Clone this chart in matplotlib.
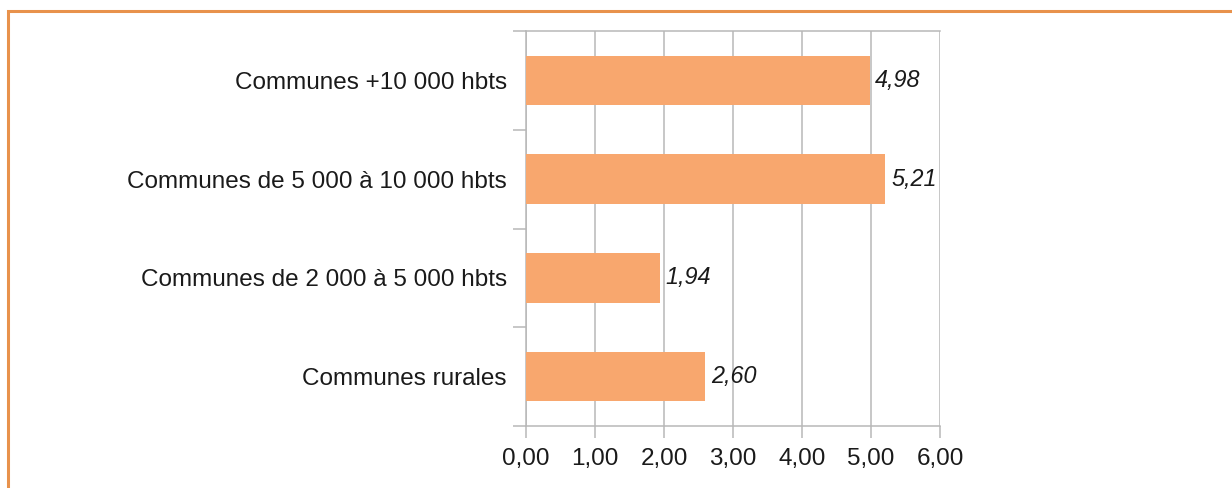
import matplotlib
matplotlib.use("Agg")
from matplotlib import pyplot as plt
from matplotlib.patches import Rectangle

# donnees du graphique
categories = ["Communes +10 000 hbts",
              "Communes de 5 000 à 10 000 hbts",
              "Communes de 2 000 à 5 000 hbts",
              "Communes rurales"]
valeurs = [4.98, 5.21, 1.94, 2.60]
xticks = [0, 1, 2, 3, 4, 5, 6]

plt.rcParams['font.family'] = ['Liberation Sans', 'DejaVu Sans']

W, H = 1232, 488
fig = plt.figure(figsize=(W / 100, H / 100), dpi=100)
fig.patch.set_facecolor('white')

# cadre orange de la figure (coupe a droite et en bas)
fig.patches.append(Rectangle((8 / W, -0.1), 1.2, 1 - 11 / H + 0.1,
                             transform=fig.transFigure, fill=False,
                             edgecolor='#E8924C', linewidth=2.2))

ax = fig.add_axes([526 / W, 1 - 426 / H, (940 - 526) / W, (426 - 31) / H])

gris = '#B8B8B8'
pos = list(range(len(categories)))
ax.barh(pos, valeurs, height=0.5, color='#F8A76E', zorder=3)

for y, v in zip(pos, valeurs):
    ax.text(v + 0.08, y, f"{v:.2f}".replace('.', ','), va='center',
            ha='left', fontsize=16.8, style='italic', color='#1a1a1a', zorder=4)

ax.set_xlim(0, 6)
ax.set_ylim(len(categories) - 0.5, -0.5)
ax.set_xticks(xticks)
ax.set_xticklabels([f"{t:.2f}".replace('.', ',') for t in xticks])

# ticks de categories aux frontieres
ax.set_yticks([p - 0.5 for p in pos] + [len(categories) - 0.5])
ax.set_yticklabels([])
ax.set_yticks(pos, minor=True)
ax.set_yticklabels(categories, minor=True)
ax.tick_params(axis='y', which='minor', length=0, pad=13.7, labelsize=17.5,
               labelcolor='#1a1a1a')
ax.tick_params(axis='y', which='major', length=9.4, width=1.1, color=gris)
ax.tick_params(axis='x', length=8.6, width=1.1, color=gris, pad=7.5,
               labelsize=17.5, labelcolor='#1a1a1a')

ax.xaxis.grid(True, color=gris, linewidth=1.1, zorder=0)
ax.set_axisbelow(True)
for s in ['left', 'bottom', 'top', 'right']:
    ax.spines[s].set_color(gris)
    ax.spines[s].set_linewidth(1.1)
ax.spines['right'].set_visible(False)

fig.savefig('out.png', dpi=100, facecolor='white')
